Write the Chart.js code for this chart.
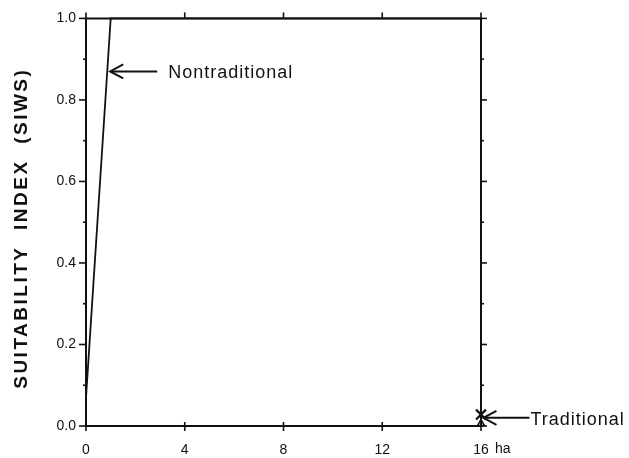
<!DOCTYPE html>
<html><head><meta charset="utf-8">
<script src="https://cdn.jsdelivr.net/npm/chart.js@4/dist/chart.umd.min.js"></script>
<style>html,body{margin:0;padding:0;background:#fff}#w{width:629px;height:458px}</style>
</head><body><div id="w"><canvas id="c" width="629" height="458"></canvas></div>
<script>
const xTicks = [0, 4, 8, 12, 16];
const yTicks = [0.0, 0.2, 0.4, 0.6, 0.8, 1.0];
const nontradX = [0, 1.0, 16];
const nontradY = [0.07, 1.0, 1.0];
const tradX = [0, 16, 16];
const tradY = [0, 0, 1.0];
const tradMarkX = [16];
const tradMarkY = [0.028];
const tradBaseY = [0.006];
const yTitle = 'SUITABILITY  INDEX  (SIWS)';
const xUnit = 'ha';
const labels = [{text:'Nontraditional', x:0.98, y:0.87, len:47, gap:11}, {text:'Traditional', x:16.1, y:0.02, len:46, gap:1}];

const toPts = (xs, ys) => xs.map((x, i) => ({x, y: ys[i]}));
const INK = '#111';
const FONT = '"Liberation Sans", Arial, sans-serif';

const decor = {
  id: 'decor',
  afterDraw(chart) {
    const ctx = chart.ctx, a = chart.chartArea;
    const xs = chart.scales.x, ys = chart.scales.y;
    ctx.save();
    ctx.strokeStyle = INK; ctx.fillStyle = INK; ctx.lineWidth = 2;
    ctx.beginPath();
    ctx.rect(a.left, a.top, a.right - a.left, a.bottom - a.top);
    ctx.stroke();
    ctx.lineWidth = 1.6;
    xTicks.forEach(v => {
      const p = xs.getPixelForValue(v);
      ctx.beginPath(); ctx.moveTo(p, a.bottom - 4); ctx.lineTo(p, a.bottom + 5); ctx.stroke();
      ctx.beginPath(); ctx.moveTo(p, a.top); ctx.lineTo(p, a.top - 6); ctx.stroke();
    });
    for (let i = 0; i <= 10; i++) {
      const v = i / 10, p = ys.getPixelForValue(v);
      const major = i % 2 === 0;
      ctx.beginPath(); ctx.moveTo(a.left, p); ctx.lineTo(a.left - (major ? 7 : 3), p); ctx.stroke();
      ctx.beginPath(); ctx.moveTo(a.right, p); ctx.lineTo(a.right + (major ? 6 : 3), p); ctx.stroke();
    }
    ctx.font = '14px ' + FONT; ctx.textBaseline = 'middle'; ctx.textAlign = 'left';
    ctx.fillText(xUnit, xs.getPixelForValue(16) + 14, a.bottom + 23);
    ctx.save();
    ctx.translate(22, (a.top + a.bottom) / 2 + 6);
    ctx.rotate(-Math.PI / 2);
    ctx.font = 'bold 19px ' + FONT; ctx.textAlign = 'center'; ctx.textBaseline = 'middle';
    ctx.letterSpacing = '2.5px';
    ctx.fillText(yTitle, 0, 0);
    ctx.restore();
    labels.forEach(l => {
      const tx = xs.getPixelForValue(l.x), ty = ys.getPixelForValue(l.y);
      ctx.lineWidth = 2;
      ctx.beginPath(); ctx.moveTo(tx, ty); ctx.lineTo(tx + l.len, ty); ctx.stroke();
      ctx.beginPath(); ctx.moveTo(tx + 13, ty - 7); ctx.lineTo(tx, ty); ctx.lineTo(tx + 13, ty + 7); ctx.stroke();
      ctx.font = '18px ' + FONT; ctx.textAlign = 'left'; ctx.textBaseline = 'middle';
      ctx.letterSpacing = '1px';
      ctx.fillText(l.text, tx + l.len + l.gap, ty + 2);
      ctx.letterSpacing = '0px';
    });
    ctx.restore();
  }
};

new Chart(document.getElementById('c'), {
  type: 'scatter',
  data: {
    datasets: [
      {label: 'Nontraditional', data: toPts(nontradX, nontradY), showLine: true, borderColor: INK, borderWidth: 1.8, pointRadius: 0, tension: 0},
      {label: 'Traditional', data: toPts(tradX, tradY), showLine: true, borderColor: INK, borderWidth: 1.8, pointRadius: 0, tension: 0},
      {label: 'Traditional marker', data: toPts(tradMarkX, tradMarkY), pointStyle: 'crossRot', pointRadius: 7, borderColor: INK, borderWidth: 2.2, backgroundColor: INK},
      {label: 'Traditional base', data: toPts(tradMarkX, tradBaseY), pointStyle: 'triangle', pointRadius: 4, borderColor: INK, borderWidth: 1.5, backgroundColor: 'rgba(0,0,0,0)'}
    ]
  },
  options: {
    responsive: false, animation: false, clip: false,
    layout: {padding: {top: 18, right: 148, left: 0, bottom: 0}},
    plugins: {legend: {display: false}, tooltip: {enabled: false}},
    scales: {
      x: {type: 'linear', min: 0, max: 16,
        afterFit: s => { s.height = 32; },
        grid: {display: false, drawTicks: false}, border: {display: false},
        afterBuildTicks: s => { s.ticks = xTicks.map(v => ({value: v})); },
        ticks: {padding: 16, color: INK, font: {size: 14, family: FONT}, maxRotation: 0, callback: v => String(v)}},
      y: {type: 'linear', min: 0, max: 1,
        afterFit: s => { s.width = 86; },
        grid: {display: false, drawTicks: false}, border: {display: false},
        afterBuildTicks: s => { s.ticks = yTicks.map(v => ({value: v})); },
        ticks: {padding: 10, color: INK, font: {size: 14, family: FONT}, callback: v => Number(v).toFixed(1)}}
    }
  },
  plugins: [decor]
});
</script></body></html>
